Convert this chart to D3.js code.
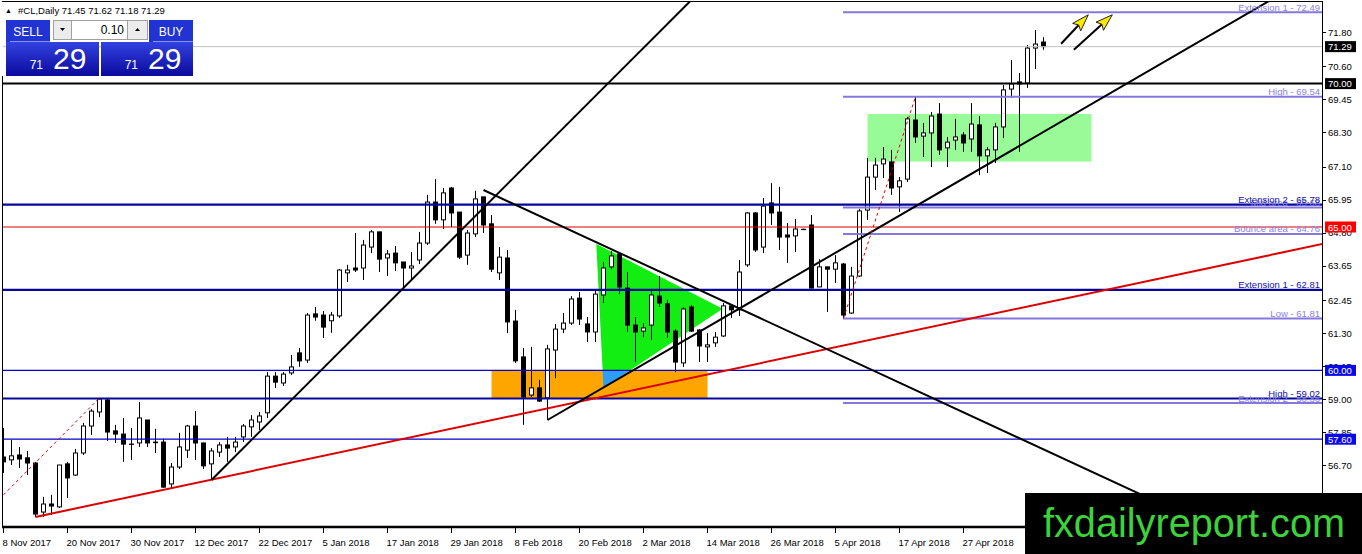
<!DOCTYPE html>
<html>
<head>
<meta charset="utf-8">
<script src="https://cdn.jsdelivr.net/npm/d3@7"></script>
<style>
    body { margin: 0; background: #fff; }
    svg { display: block; font-family: "Liberation Sans", Arial, sans-serif; }
</style>
</head>
<body>
<div id="chart"></div>
<script>

// 1. Data

const opens = [56.98,56.88,57.05,56.95,56.77,55.06,55.34,55.24,56.74,56.35,57.12,58.06,58.55,58.97,57.89,57.78,57.43,57.47,58.27,57.50,
    57.50,56.04,56.63,57.22,58.06,57.47,56.74,57.15,57.40,57.33,57.68,58.03,58.20,58.52,59.80,59.56,59.91,60.61,60.36,61.97,
    61.93,61.73,61.90,63.40,63.57,63.57,64.30,64.83,63.92,64.09,63.78,63.57,63.85,64.44,65.87,65.25,66.36,65.52,64.02,64.76,
    66.05,65.11,63.40,63.92,61.72,60.47,59.14,59.39,59.04,60.71,61.44,61.65,62.52,61.62,61.34,62.63,63.61,64.06,62.87,61.58,
    61.37,61.58,62.59,62.32,61.37,60.26,62.21,61.41,60.82,60.96,61.20,62.25,62.11,63.68,65.49,64.30,65.84,65.52,64.72,64.69,
    64.92,65.07,62.91,63.61,63.53,63.71,62.00,63.29,65.59,66.74,67.20,67.27,66.40,66.67,68.73,68.17,68.28,68.94,67.76,68.03,
    68.21,68.07,68.56,67.48,67.69,68.49,69.81,70.06,70.02,71.24,71.45];
const highs = [57.99,57.57,57.33,57.19,56.81,55.59,55.66,56.70,56.81,57.26,58.17,58.65,59.04,59.00,58.10,58.34,57.99,58.90,58.27,57.96,
    57.61,56.77,57.82,58.10,58.58,57.47,57.29,57.50,57.68,57.68,58.13,58.44,58.55,59.94,59.94,59.94,60.54,60.78,62.00,62.21,
    62.07,62.04,63.53,63.68,64.79,64.55,64.90,64.83,64.20,64.34,63.78,64.13,64.83,66.12,66.67,66.36,66.40,65.52,64.90,66.26,
    66.05,65.42,64.30,64.20,62.11,60.78,60.82,59.67,60.89,61.62,62.00,62.59,62.73,61.86,62.80,63.78,64.16,64.09,63.43,61.86,
    61.65,62.84,63.29,62.46,61.44,62.21,62.28,61.44,61.30,61.34,62.35,62.28,63.85,65.52,65.52,66.01,66.53,66.40,65.14,65.28,
    64.94,65.42,63.88,63.61,64.02,63.75,63.61,65.63,67.41,67.41,67.79,67.69,66.74,68.84,69.54,68.63,69.01,69.32,68.14,68.77,
    68.31,69.32,68.87,67.79,68.63,69.95,70.82,70.37,71.35,71.87,71.62];
const lows = [56.42,56.70,56.60,56.35,54.89,54.89,54.96,55.20,55.55,56.32,57.05,57.75,58.37,57.54,57.47,56.81,56.88,57.33,57.33,57.12,
    55.90,55.90,56.56,56.95,56.88,56.56,56.18,56.98,56.81,57.15,57.50,57.68,57.92,58.34,59.39,59.46,59.84,60.12,60.26,61.73,
    61.13,61.31,61.83,63.08,63.43,63.15,64.09,63.43,63.29,63.47,62.87,63.15,63.71,64.37,65.11,64.93,65.00,63.88,63.68,64.65,
    64.79,63.43,63.15,61.30,60.26,58.10,59.07,58.90,58.27,59.73,61.30,61.58,61.58,60.99,60.99,62.35,63.53,62.66,61.34,60.29,
    61.16,61.06,62.21,61.13,59.94,60.12,61.34,60.29,60.29,60.82,61.16,61.83,61.90,63.61,64.13,64.09,65.07,64.20,63.75,64.13,
    64.90,62.87,62.91,62.04,63.05,61.81,61.97,63.26,65.25,66.29,66.71,66.12,65.52,66.57,67.93,67.44,67.09,67.51,67.09,67.69,
    67.62,67.62,66.81,66.88,67.23,68.10,69.50,67.62,69.85,70.51,71.18];
const closes = [56.81,57.02,56.91,56.77,54.99,55.34,55.27,56.70,56.25,57.12,58.06,58.58,59.00,57.85,57.78,57.43,57.43,58.34,57.47,57.48,
    55.93,56.63,57.33,58.06,57.47,56.67,57.19,57.40,57.29,57.50,58.06,58.27,58.41,59.80,59.59,59.87,60.12,60.33,61.93,61.86,
    61.51,61.93,63.50,63.50,63.50,64.37,64.83,63.88,64.06,63.75,63.57,63.64,64.44,65.87,65.25,66.19,65.49,63.95,64.79,65.98,
    65.07,63.53,63.95,61.69,60.33,59.07,59.39,58.93,60.75,61.44,61.65,62.49,61.79,61.34,62.66,63.57,63.99,62.91,61.58,61.34,
    61.48,62.63,62.35,61.34,60.29,62.14,61.37,60.85,60.89,61.16,62.25,62.11,63.43,65.49,64.20,65.73,65.49,64.65,64.65,64.93,
    64.92,62.87,63.61,63.53,63.75,61.93,63.29,65.56,66.74,67.16,67.37,66.36,66.61,68.77,68.14,68.28,68.87,67.69,67.96,68.14,
    67.93,68.59,67.48,67.69,68.49,69.78,69.99,69.99,71.24,71.38,71.29];

const dateLabels = ["8 Nov 2017", "20 Nov 2017", "30 Nov 2017", "12 Dec 2017", "22 Dec 2017", "5 Jan 2018",
    "17 Jan 2018", "29 Jan 2018", "8 Feb 2018", "20 Feb 2018", "2 Mar 2018", "14 Mar 2018", "26 Mar 2018",
    "5 Apr 2018", "17 Apr 2018", "27 Apr 2018", "9 May 2018"];
const dateBars = [0, 8, 16, 24, 32, 40, 48, 56, 64, 72, 80, 88, 96, 104, 112, 120, 128];

const priceTicks = [71.80, 70.60, 69.45, 68.30, 67.10, 65.95, 64.80, 63.65, 62.45, 61.30, 60.15, 59.00, 57.85, 56.70, 55.55];

const lastPrice = 71.29;
const blackLevel = 70.00;
const redLevel = 65.00;
const blueLevels = [60.00, 57.60];
const navyLevels = [65.78, 62.81, 59.02];
const navyLabels = ["Extension 2 - 65.78", "Extension 1 - 62.81", "High - 59.02"];
const fiboStartBar = 105;
const fiboLevels = [72.49, 69.54, 65.68, 64.76, 61.81, 58.86];
const fiboLabels = ["Extension 1 - 72.49", "High - 69.54", "Mid area - 65.68", "Bounce area - 64.76", "Low - 61.81", "Extension 2 - 58.86"];

// trend rays: [bar, price] start and second point
const redRay = [[4, 54.89], [164.9, 64.41]];
const blackRays = [
    [[26, 56.18], [86, 72.92]],
    [[60, 66.29], [141.5, 55.76]],
    [[68, 58.27], [158, 72.85]],
];
const dashedSegments = [
    [[0, 55.66], [12, 59.04]],
    [[105, 61.81], [114, 69.54]],
];
// boxes: [bar from, bar to, price top, price bottom]
const greenBox = [108, 136, 68.94, 67.28];
const orangeBox = [61, 88, 60.00, 59.02];
const greenTriangle = [[74.1, 64.41], [89.9, 62.15], [75, 59.39]];
const arrows = [
    [[132.2, 71.39], [135.6, 72.40]],
    [[133.8, 71.18], [138.6, 72.40]],
];


// 2. Dimensions

const dimensions = {
    width: 1362,
    height: 554,
    plotLeft: 3,
    plotRight: 1322,
    plotBottom: 527,
};


// 3. Canvas

const chart = d3.select("#chart")
    .append("svg")
    .attr("width", dimensions.width)
    .attr("height", dimensions.height);

const defs = chart.append("defs");

defs.append("clipPath").attr("id", "plot-clip")
    .append("rect")
    .attr("x", dimensions.plotLeft)
    .attr("y", 2)
    .attr("width", dimensions.plotRight - dimensions.plotLeft)
    .attr("height", dimensions.plotBottom - 2);


// 4. Scales

const x = d3.scaleLinear().domain([0, 130]).range([3.5, 1043.5]);
const y = d3.scaleLinear().domain([55.55, 71.80]).range([498, 32]);

const bars = opens.map((o, i) => ({ i, o, h: highs[i], l: lows[i], c: closes[i] }));


// 5. Draw data

const plot = chart.append("g").attr("clip-path", "url(#plot-clip)");

// background objects
plot.append("rect")
    .attr("x", x(greenBox[0]))
    .attr("y", y(greenBox[2]))
    .attr("width", x(greenBox[1]) - x(greenBox[0]))
    .attr("height", y(greenBox[3]) - y(greenBox[2]))
    .attr("fill", "#98fb98");

const triPoints = greenTriangle.map(p => [x(p[0]), y(p[1])].join(",")).join(" ");

plot.append("polygon")
    .attr("points", triPoints)
    .attr("fill", "#12ee12");

plot.append("rect")
    .attr("x", x(orangeBox[0]))
    .attr("y", y(orangeBox[2]))
    .attr("width", x(orangeBox[1]) - x(orangeBox[0]))
    .attr("height", y(orangeBox[3]) - y(orangeBox[2]))
    .attr("fill", "#ffa500");

defs.append("clipPath").attr("id", "orange-clip")
    .append("rect")
    .attr("x", x(orangeBox[0]))
    .attr("y", y(orangeBox[2]))
    .attr("width", x(orangeBox[1]) - x(orangeBox[0]))
    .attr("height", y(orangeBox[3]) - y(orangeBox[2]));

// where the triangle crosses the orange box the colours mix to blue
plot.append("polygon")
    .attr("points", triPoints)
    .attr("clip-path", "url(#orange-clip)")
    .attr("fill", "#2f9cf5");

// candles
const candles = plot.append("g");

candles.selectAll("line.wick")
    .data(bars)
    .join("line")
    .attr("class", "wick")
    .attr("x1", d => x(d.i))
    .attr("x2", d => x(d.i))
    .attr("y1", d => y(d.h))
    .attr("y2", d => y(d.l))
    .attr("stroke", "black")
    .attr("stroke-width", 1);

candles.selectAll("rect.body")
    .data(bars)
    .join("rect")
    .attr("class", "body")
    .attr("x", d => x(d.i) - 2)
    .attr("width", 4)
    .attr("y", d => y(Math.max(d.o, d.c)))
    .attr("height", d => Math.max(y(Math.min(d.o, d.c)) - y(Math.max(d.o, d.c)), 0.3))
    .attr("fill", d => d.c >= d.o ? "white" : "black")
    .attr("stroke", "black")
    .attr("stroke-width", 1);

// horizontal lines
const hline = (price, x0, color, width) => plot.append("line")
    .attr("x1", x0)
    .attr("x2", dimensions.plotRight)
    .attr("y1", y(price))
    .attr("y2", y(price))
    .attr("stroke", color)
    .attr("stroke-width", width);

hline(lastPrice, dimensions.plotLeft, "#c0c0c0", 1);
hline(redLevel, dimensions.plotLeft, "#e00000", 1);
blueLevels.forEach(p => hline(p, dimensions.plotLeft, "#0000c8", 1.2));

fiboLevels.forEach(p => hline(p, x(fiboStartBar) - 0.5, "#8478e0", 2));
navyLevels.forEach(p => hline(p, dimensions.plotLeft, "#06069c", 2.2));
hline(blackLevel, dimensions.plotLeft, "black", 2);

// trend rays
const rayEnd = (a, b) => {
    const k = (b[1] - a[1]) / (b[0] - a[0]);
    const far = 400;
    return [a[0] + far, a[1] + k * far];
};

plot.append("line")
    .attr("x1", x(redRay[0][0])).attr("y1", y(redRay[0][1]))
    .attr("x2", x(rayEnd(...redRay)[0])).attr("y2", y(rayEnd(...redRay)[1]))
    .attr("stroke", "#dd0000")
    .attr("stroke-width", 2);

plot.selectAll("line.ray")
    .data(blackRays)
    .join("line")
    .attr("class", "ray")
    .attr("x1", d => x(d[0][0])).attr("y1", d => y(d[0][1]))
    .attr("x2", d => x(rayEnd(...d)[0])).attr("y2", d => y(rayEnd(...d)[1]))
    .attr("stroke", "black")
    .attr("stroke-width", 2);

plot.selectAll("line.dashed")
    .data(dashedSegments)
    .join("line")
    .attr("class", "dashed")
    .attr("x1", d => x(d[0][0])).attr("y1", d => y(d[0][1]))
    .attr("x2", d => x(d[1][0])).attr("y2", d => y(d[1][1]))
    .attr("stroke", "#dd0000")
    .attr("stroke-width", 1)
    .attr("stroke-dasharray", "3,3");

// level labels
const levelText = (price, label, color) => chart.append("text")
    .attr("x", dimensions.plotRight - 2)
    .attr("y", y(price) - 1.5)
    .attr("text-anchor", "end")
    .style("font-size", "9.5px")
    .style("fill", color)
    .text(label);

fiboLevels.forEach((p, i) => levelText(p, fiboLabels[i], "#8a82e6"));
navyLevels.forEach((p, i) => levelText(p, navyLabels[i], "#1010a8"));

// arrows
arrows.forEach(([s, t]) => {
    const sx = x(s[0]), sy = y(s[1]), tx = x(t[0]), ty = y(t[1]);
    const len = Math.hypot(tx - sx, ty - sy);
    const ux = (tx - sx) / len, uy = (ty - sy) / len;
    const bx = tx - ux * 17, by = ty - uy * 17;
    chart.append("line")
        .attr("x1", sx).attr("y1", sy)
        .attr("x2", bx + ux * 3).attr("y2", by + uy * 3)
        .attr("stroke", "black")
        .attr("stroke-width", 2);
    chart.append("polygon")
        .attr("points", [[tx, ty], [bx - uy * 5.5, by + ux * 5.5], [bx + ux * 3, by + uy * 3], [bx + uy * 5.5, by - ux * 5.5]]
            .map(p => p.join(",")).join(" "))
        .attr("fill", "#ffea00")
        .attr("stroke", "#222")
        .attr("stroke-width", 1);
});


// 6. Peripherals

// frame
chart.append("line")
    .attr("x1", 2).attr("x2", dimensions.plotRight + 1)
    .attr("y1", 1.5).attr("y2", 1.5)
    .attr("stroke", "black");

chart.append("line")
    .attr("x1", 2.5).attr("x2", 2.5)
    .attr("y1", 76).attr("y2", dimensions.plotBottom)
    .attr("stroke", "black");

chart.append("line")
    .attr("x1", dimensions.plotRight + 0.5).attr("x2", dimensions.plotRight + 0.5)
    .attr("y1", 1).attr("y2", dimensions.plotBottom)
    .attr("stroke", "black");

chart.append("line")
    .attr("x1", 2).attr("x2", dimensions.plotRight + 1)
    .attr("y1", dimensions.plotBottom).attr("y2", dimensions.plotBottom)
    .attr("stroke", "black")
    .attr("stroke-width", 2.5);

// price axis
const priceAxis = chart.append("g");

priceAxis.selectAll("line")
    .data(priceTicks)
    .join("line")
    .attr("x1", dimensions.plotRight + 1)
    .attr("x2", dimensions.plotRight + 4)
    .attr("y1", d => Math.round(y(d)) + 0.5)
    .attr("y2", d => Math.round(y(d)) + 0.5)
    .attr("stroke", "black");

priceAxis.selectAll("text")
    .data(priceTicks)
    .join("text")
    .attr("x", dimensions.plotRight + 6)
    .attr("y", d => y(d) + 3.5)
    .style("font-size", "9.5px")
    .style("fill", "black")
    .text(d => d.toFixed(2));

const priceBox = (price, fill) => {
    chart.append("rect")
        .attr("x", dimensions.plotRight + 3)
        .attr("y", y(price) - 5.5)
        .attr("width", 31)
        .attr("height", 11)
        .attr("fill", fill);
    chart.append("text")
        .attr("x", dimensions.plotRight + 6)
        .attr("y", y(price) + 3.5)
        .style("font-size", "9.5px")
        .style("fill", "white")
        .text(price.toFixed(2));
};

priceBox(lastPrice, "black");
priceBox(blackLevel, "black");
priceBox(redLevel, "#ff0000");
blueLevels.forEach(p => priceBox(p, "#0a0ae8"));

// time axis
const timeAxis = chart.append("g");

timeAxis.selectAll("line")
    .data(dateBars)
    .join("line")
    .attr("x1", d => x(d))
    .attr("x2", d => x(d))
    .attr("y1", dimensions.plotBottom + 1)
    .attr("y2", dimensions.plotBottom + 6)
    .attr("stroke", "black");

timeAxis.selectAll("text")
    .data(dateBars)
    .join("text")
    .attr("x", d => x(d) - 1)
    .attr("y", dimensions.plotBottom + 19)
    .style("font-size", "9.5px")
    .style("fill", "black")
    .text((d, i) => dateLabels[i]);

// title
chart.append("text")
    .attr("x", 5)
    .attr("y", 13)
    .style("font-size", "7px")
    .text("\u25B2");

chart.append("text")
    .attr("x", 18)
    .attr("y", 14)
    .style("font-size", "9.5px")
    .text(`#CL,Daily  ${opens[130].toFixed(2)} ${highs[130].toFixed(2)} ${lows[130].toFixed(2)} ${closes[130].toFixed(2)}`);

// one click trading panel
const grad = defs.append("linearGradient").attr("id", "panel-grad")
    .attr("x1", 0).attr("y1", 0).attr("x2", 0).attr("y2", 1);
grad.append("stop").attr("offset", 0).attr("stop-color", "#3242e0");
grad.append("stop").attr("offset", 1).attr("stop-color", "#0a0a9c");

const panel = chart.append("g");
const priceStr = closes[130].toFixed(2).split(".");

[[6, 44, "SELL"], [149, 44, "BUY"]].forEach(([bx, bw, label]) => {
    panel.append("rect").attr("x", bx).attr("y", 20).attr("width", bw).attr("height", 22).attr("fill", "#2233d4");
    panel.append("line").attr("x1", bx + 4).attr("x2", bx + bw).attr("y1", 41.5).attr("y2", 41.5)
        .attr("stroke", "#8890e8").attr("stroke-width", 1);
    panel.append("text").attr("x", bx + bw / 2).attr("y", 36).attr("text-anchor", "middle")
        .style("font-size", "12px").style("fill", "white").text(label);
});

[[6, 93], [101, 92]].forEach(([bx, bw]) => {
    panel.append("rect").attr("x", bx).attr("y", 42).attr("width", bw).attr("height", 34).attr("fill", "url(#panel-grad)");
    panel.append("text").attr("x", bx + 37).attr("y", 69).attr("text-anchor", "end")
        .style("font-size", "12px").style("fill", "white").text(priceStr[0]);
    panel.append("text").attr("x", bx + 47).attr("y", 69)
        .style("font-size", "30px").style("fill", "white").text(priceStr[1]);
});

panel.append("rect").attr("x", 53.5).attr("y", 20.5).attr("width", 18).attr("height", 19)
    .attr("fill", "#ececec").attr("stroke", "#a0a0a0");
panel.append("rect").attr("x", 71.5).attr("y", 20.5).attr("width", 56).attr("height", 19)
    .attr("fill", "white").attr("stroke", "#a0a0a0");
panel.append("rect").attr("x", 127.5).attr("y", 20.5).attr("width", 20).attr("height", 19)
    .attr("fill", "#ececec").attr("stroke", "#a0a0a0");
panel.append("path").attr("d", "M60,28 L65,28 L62.5,31 Z").attr("fill", "black");
panel.append("path").attr("d", "M135,31 L140,31 L137.5,28 Z").attr("fill", "black");
panel.append("text").attr("x", 124).attr("y", 34).attr("text-anchor", "end")
    .style("font-size", "12px").style("fill", "black").text("0.10");

// watermark
chart.append("rect")
    .attr("x", 1025)
    .attr("y", 493)
    .attr("width", dimensions.width - 1025)
    .attr("height", dimensions.height - 493)
    .attr("fill", "black");

chart.append("text")
    .attr("x", 1043)
    .attr("y", 537)
    .attr("textLength", 302)
    .attr("lengthAdjust", "spacingAndGlyphs")
    .style("font-size", "40px")
    .style("fill", "#3cd23c")
    .text("fxdailyreport.com");

</script>
</body>
</html>
